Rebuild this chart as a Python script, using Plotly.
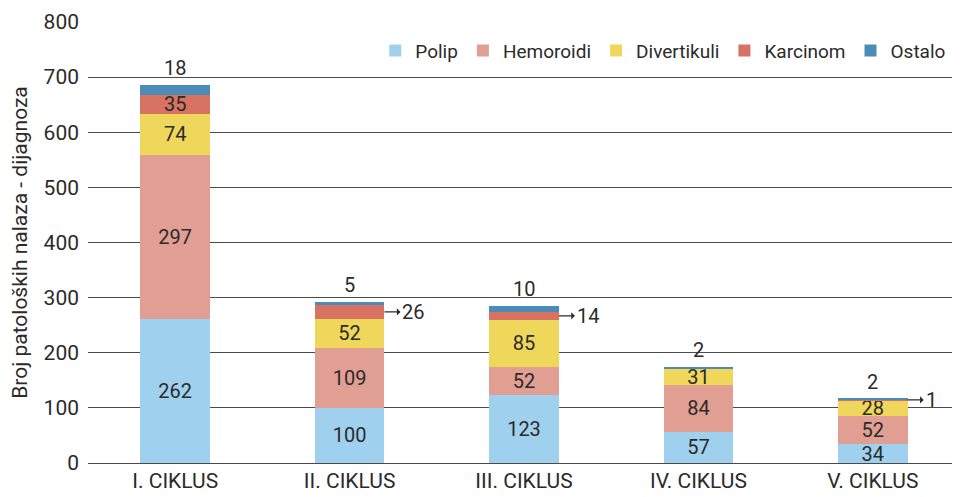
import plotly.graph_objects as go

categories = ['I. CIKLUS', 'II. CIKLUS', 'III. CIKLUS', 'IV. CIKLUS', 'V. CIKLUS']
polip = [262, 100, 123, 57, 34]
hemoroidi = [297, 109, 52, 84, 52]
divertikuli = [74, 52, 85, 31, 28]
karcinom = [35, 26, 14, 0, 1]
ostalo = [18, 5, 10, 2, 2]

series = [
    ('Polip', polip, '#9fd0ee'),
    ('Hemoroidi', hemoroidi, '#e19e93'),
    ('Divertikuli', divertikuli, '#efd75c'),
    ('Karcinom', karcinom, '#d87262'),
    ('Ostalo', ostalo, '#4a8bb9'),
]

FONT = 'Roboto'
TXT = '#2b2b2b'

fig = go.Figure()

for name, vals, color in series:
    # only label inside when the segment is tall enough
    if name in ('Polip', 'Hemoroidi', 'Divertikuli'):
        text = [str(v) for v in vals]
    elif name == 'Karcinom':
        text = [str(v) if v >= 30 else '' for v in vals]
    else:
        text = ['' for v in vals]
    fig.add_trace(go.Bar(
        name=name,
        x=categories,
        y=vals,
        marker=dict(color=color, line=dict(width=0)),
        text=text,
        textposition='inside',
        insidetextanchor='middle',
        textangle=0,
        textfont=dict(family=FONT, size=20, color=TXT),
        width=0.4,
    ))

totals = [sum(t) for t in zip(polip, hemoroidi, divertikuli, karcinom, ostalo)]

# Ostalo labels above the bars
for i, cat in enumerate(categories):
    fig.add_annotation(
        x=cat, y=totals[i], text=str(ostalo[i]), showarrow=False,
        yanchor='bottom', yshift=3,
        font=dict(family=FONT, size=20, color=TXT),
    )

# small Karcinom values pointed to from the side
for i, cat in enumerate(categories):
    if 0 < karcinom[i] < 30:
        mid = polip[i] + hemoroidi[i] + divertikuli[i] + karcinom[i] / 2
        fig.add_annotation(
            x=i + 0.2, y=mid, xref='x', yref='y',
            text=str(karcinom[i]), showarrow=True,
            ax=16, ay=0, xanchor='left',
            arrowside='start', arrowhead=6, arrowsize=1,
            arrowwidth=1.2, arrowcolor=TXT,
            font=dict(family=FONT, size=20, color=TXT),
        )

# page body adds an 8px offset, so the figure is sized to what is visible
fig.update_layout(
    barmode='stack',
    width=952, height=489,
    margin=dict(l=80, r=0, t=14, b=34),
    paper_bgcolor='white',
    plot_bgcolor='white',
    font=dict(family=FONT, size=20, color=TXT),
    uniformtext=dict(minsize=20, mode='show'),
    legend=dict(
        orientation='h', x=0.99, xanchor='right', y=0.935, yanchor='middle',
        font=dict(family=FONT, size=19, color=TXT),
        bgcolor='rgba(0,0,0,0)', traceorder='normal',
    ),
    xaxis=dict(
        tickfont=dict(family=FONT, size=21, color=TXT),
        showline=False, showgrid=False, ticks='', automargin=False,
        ticklabelstandoff=3,
    ),
    yaxis=dict(
        range=[0, 800], dtick=100,
        showgrid=True, gridcolor='#4a4a4a', gridwidth=1.1,
        zeroline=True, zerolinecolor='#4a4a4a', zerolinewidth=1.2,
        tickfont=dict(family=FONT, size=21, color=TXT),
        ticks='', ticklabelstandoff=8, automargin=False,
        title=dict(text='Broj patoloških nalaza - dijagnoza',
                   font=dict(family=FONT, size=21, color=TXT), standoff=12),
    ),
)

fig.write_html('out.html')
